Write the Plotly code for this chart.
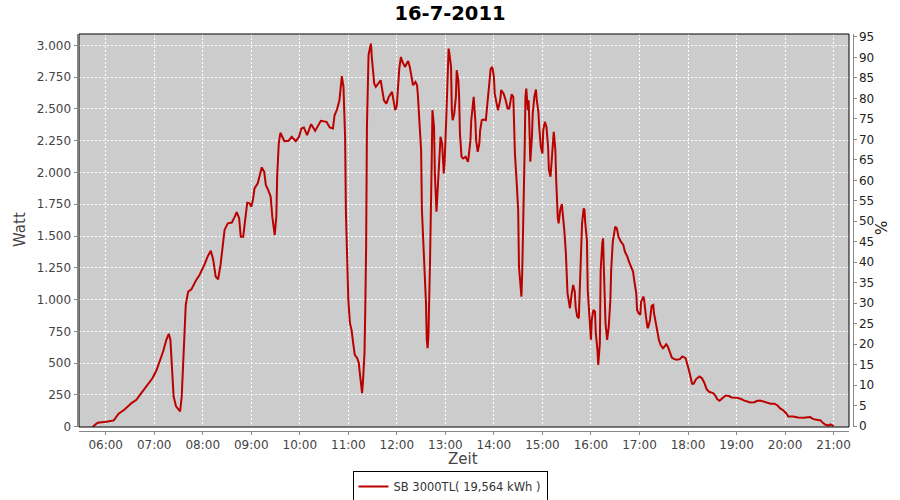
import plotly.graph_objects as go

DAY = "2011-07-16"

times = [
    "05:44", "05:50", "06:01", "06:10", "06:16", "06:23", "06:32", "06:38", "06:44", "06:52",
    "06:58", "07:03", "07:07", "07:11", "07:15", "07:18", "07:20", "07:22", "07:24", "07:27",
    "07:32", "07:34", "07:36", "07:38", "07:39", "07:42", "07:46", "07:52", "07:56", "08:02",
    "08:06", "08:10", "08:13", "08:16", "08:19", "08:22", "08:25", "08:27", "08:31", "08:36",
    "08:39", "08:42", "08:45", "08:47", "08:50", "08:53", "08:55", "08:58", "09:00", "09:02",
    "09:04", "09:08", "09:10", "09:13", "09:16", "09:18", "09:21", "09:24", "09:26", "09:29",
    "09:31", "09:32", "09:34", "09:36", "09:41", "09:46", "09:50", "09:55", "09:59", "10:02",
    "10:05", "10:09", "10:14", "10:19", "10:26", "10:33", "10:37", "10:41", "10:43", "10:46",
    "10:49", "10:50", "10:52", "10:54", "10:55", "10:56", "10:57", "10:58", "10:59", "11:00",
    "11:02", "11:04", "11:06", "11:08", "11:11", "11:13", "11:14", "11:17", "11:18", "11:20",
    "11:21", "11:22", "11:23", "11:24", "11:25", "11:27", "11:28", "11:29", "11:31", "11:32",
    "11:34", "11:37", "11:40", "11:42", "11:44", "11:47", "11:50", "11:54", "11:56", "11:58",
    "12:00", "12:02", "12:03", "12:05", "12:07", "12:10", "12:12", "12:14", "12:16", "12:18",
    "12:20", "12:23", "12:25", "12:26", "12:28", "12:30", "12:31", "12:33", "12:34", "12:36",
    "12:37", "12:38", "12:39", "12:40", "12:41", "12:43", "12:44", "12:46", "12:47", "12:49",
    "12:50", "12:52", "12:54", "12:56", "12:58", "12:59", "13:01", "13:02", "13:04", "13:05",
    "13:07", "13:08", "13:09", "13:11", "13:13", "13:14", "13:16", "13:17", "13:18", "13:20",
    "13:22", "13:25", "13:28", "13:29", "13:31", "13:32", "13:34", "13:35", "13:37", "13:38",
    "13:40", "13:42", "13:43", "13:45", "13:47", "13:50", "13:51", "13:53", "13:55", "13:56",
    "13:58", "14:00", "14:01", "14:03", "14:05", "14:06", "14:08", "14:09", "14:12", "14:14",
    "14:17", "14:19", "14:21", "14:22", "14:24", "14:25", "14:26", "14:28", "14:30", "14:31",
    "14:33", "14:34", "14:35", "14:37", "14:38", "14:39", "14:40", "14:42", "14:43", "14:44",
    "14:45", "14:47", "14:48", "14:50", "14:52", "14:53", "14:55", "14:56", "14:58", "15:00",
    "15:01", "15:03", "15:05", "15:07", "15:08", "15:10", "15:12", "15:14", "15:15", "15:16",
    "15:17", "15:18", "15:19", "15:20", "15:22", "15:24", "15:26", "15:27", "15:29", "15:30",
    "15:31", "15:33", "15:34", "15:36", "15:38", "15:40", "15:41", "15:43", "15:45", "15:46",
    "15:48", "15:49", "15:51", "15:52", "15:53", "15:55", "15:56", "15:58", "16:00", "16:01",
    "16:03", "16:05", "16:06", "16:08", "16:09", "16:11", "16:12", "16:14", "16:15", "16:16",
    "16:17", "16:18", "16:20", "16:22", "16:24", "16:25", "16:27", "16:29", "16:30", "16:32",
    "16:34", "16:37", "16:40", "16:42", "16:45", "16:47", "16:50", "16:52", "16:54", "16:56",
    "16:57", "16:59", "17:01", "17:02", "17:05", "17:06", "17:08", "17:10", "17:11", "17:13",
    "17:15", "17:17", "17:18", "17:20", "17:22", "17:24", "17:26", "17:29", "17:31", "17:33",
    "17:35", "17:38", "17:40", "17:43", "17:46", "17:50", "17:53", "17:57", "17:59", "18:01",
    "18:03", "18:05", "18:07", "18:10", "18:14", "18:17", "18:20", "18:23", "18:26", "18:31",
    "18:34", "18:36", "18:39", "18:42", "18:46", "18:50", "18:54", "19:00", "19:05", "19:09",
    "19:14", "19:17", "19:22", "19:25", "19:29", "19:33", "19:37", "19:42", "19:47", "19:51",
    "19:54", "19:58", "20:01", "20:04", "20:10", "20:16", "20:23", "20:27", "20:31", "20:35",
    "20:39", "20:44", "20:47", "20:50", "20:54", "20:56", "20:58", "21:00",
]

watt = [
    0, 31, 39, 50, 102, 134, 186, 212, 265, 330,
    383, 448, 513, 592, 684, 731, 684, 487, 238, 160,
    120, 238, 500, 762, 958, 1063, 1081, 1155, 1194, 1273,
    1338, 1385, 1312, 1181, 1160, 1273, 1443, 1548, 1600, 1606,
    1645, 1687, 1640, 1495, 1495, 1652, 1762, 1757, 1730, 1783,
    1875, 1915, 1966, 2040, 2005, 1901, 1861, 1809, 1652, 1508,
    1652, 1966, 2228, 2312, 2246, 2249, 2280, 2246, 2280, 2346,
    2354, 2293, 2380, 2327, 2406, 2398, 2354, 2346, 2450, 2495,
    2568, 2647, 2757, 2673, 2503, 2280, 1691, 1403, 1168, 998,
    815, 762, 657, 566, 540, 500, 434, 265, 343, 579,
    945, 1416, 2358, 2699, 2922, 2987, 3013, 2908, 2790, 2699,
    2673, 2699, 2725, 2647, 2568, 2542, 2594, 2634, 2568, 2490,
    2529, 2725, 2817, 2908, 2869, 2830, 2861, 2877, 2830, 2739,
    2686, 2712, 2686, 2608, 2358, 2175, 1704, 1443, 1207, 972,
    684, 618, 709, 972, 1298, 2045, 2490, 2358, 1992, 1691,
    1783, 2045, 2280, 2228, 1992, 2071, 2411, 2673, 2974, 2935,
    2830, 2490, 2411, 2464, 2594, 2804, 2725, 2594, 2306, 2123,
    2110, 2123, 2084, 2136, 2254, 2411, 2581, 2594, 2411, 2254,
    2162, 2228, 2332, 2411, 2416, 2411, 2476, 2620, 2725, 2817,
    2830, 2752, 2620, 2555, 2490, 2516, 2581, 2647, 2620, 2581,
    2503, 2503, 2581, 2616, 2594, 2332, 2149, 1940, 1704, 1259,
    1115, 1024, 1207, 1757, 2175, 2594, 2660, 2490, 2568, 2332,
    2084, 2280, 2464, 2594, 2652, 2568, 2476, 2358, 2201, 2149,
    2332, 2398, 2358, 2201, 2018, 1966, 2123, 2319, 2254, 2175,
    1940, 1730, 1640, 1600, 1704, 1751, 1626, 1548, 1364, 1233,
    1050, 972, 932, 1037, 1115, 1063, 945, 866, 853, 1050,
    1338, 1600, 1718, 1704, 1600, 1469, 1076, 866, 684, 840,
    919, 906, 736, 605, 487, 657, 1233, 1443, 1482, 1233,
    972, 814, 684, 788, 998, 1233, 1456, 1534, 1573, 1561,
    1495, 1456, 1430, 1377, 1338, 1298, 1259, 1220, 1129, 1050,
    919, 892, 880, 984, 1024, 984, 866, 775, 788, 840,
    951, 958, 892, 814, 749, 684, 644, 618, 631, 649,
    631, 584, 544, 532, 527, 532, 553, 540, 500, 448,
    395, 338, 338, 375, 395, 383, 348, 296, 275, 265,
    243, 218, 204, 220, 243, 243, 230, 228, 220, 207,
    196, 191, 193, 202, 207, 199, 186, 181, 181, 165,
    144, 128, 108, 81, 81, 73, 71, 76, 76, 60,
    53, 50, 29, 16, 10, 18, 13, 5,
]

title_text = "16-7-2011"
series_name = "SB 3000TL( 19,564 kWh )"
y_title = "Watt"
y2_title = "%"
x_title = "Zeit"
x_range = [DAY + " 05:27:00", DAY + " 21:19:03"]
y_range = [-2, 3089]
y2_range = [-0.2, 95.7]

W, H = 900, 500
FONT = "DejaVu Sans"
TXT = "#444444"
AX = "#888888"

x_dom = [79 / W, 849 / W]
y_dom = [1 - 427 / H, 1 - 34 / H]

x_vals = [DAY + " " + t for t in times]

fig = go.Figure()
fig.add_trace(go.Scatter(
    x=x_vals, y=watt, mode="lines", name=series_name,
    line=dict(color="#BB0000", width=2),
))
fig.add_trace(go.Scatter(
    x=[x_vals[0]], y=[0], yaxis="y2", mode="markers",
    marker=dict(opacity=0), showlegend=False, hoverinfo="skip",
))

fig.update_layout(
    width=W, height=H,
    margin=dict(l=0, r=0, t=0, b=0, autoexpand=False),
    paper_bgcolor="white",
    plot_bgcolor="#CCCCCC",
    separators=",.",
    font=dict(family=FONT, size=12, color=TXT),
    title=dict(text="<b>" + title_text + "</b>", x=0.5, xanchor="center",
               y=1 - 13 / H, yanchor="middle", yref="container",
               font=dict(family=FONT, size=19.5, color="black")),
    xaxis=dict(
        domain=x_dom, range=x_range, type="date", automargin=False,
        tickformat="%H:%M", dtick=3600000, tick0=DAY + " 06:00",
        showgrid=True, gridcolor="white", griddash="2px,2px", gridwidth=1,
        showline=True, linecolor=AX, linewidth=1,
        ticks="outside", ticklen=3, tickcolor=AX,
        anchor="free", position=1 - 431 / H, zeroline=False,
        tickfont=dict(family=FONT, size=12, color=TXT),
    ),
    yaxis=dict(
        domain=y_dom, range=y_range, dtick=250, tick0=0, tickformat=",d", automargin=False,
        showgrid=True, gridcolor="white", griddash="2px,2px", gridwidth=1,
        showline=True, linecolor=AX, linewidth=1,
        ticks="outside", ticklen=3, tickcolor=AX,
        anchor="free", position=76.5 / W, zeroline=False,
        tickfont=dict(family=FONT, size=12, color=TXT),
    ),
    yaxis2=dict(
        overlaying="y", side="right", range=y2_range, dtick=5, tick0=0, automargin=False,
        showgrid=False, showline=True, linecolor=AX, linewidth=1,
        ticks="outside", ticklen=3, tickcolor=AX,
        anchor="free", position=852.5 / W, zeroline=False,
        tickfont=dict(family=FONT, size=12, color="#222222"),
    ),
    legend=dict(
        orientation="v", x=0.5, xanchor="center", y=1 - 471 / H, yanchor="top",
        bordercolor="black", borderwidth=1, bgcolor="white",
        font=dict(family=FONT, size=11.5, color="#333333"),
        itemwidth=30, tracegroupgap=0,
    ),
    showlegend=True,
)

fig.add_shape(type="rect", xref="paper", yref="paper",
              x0=x_dom[0], x1=x_dom[1], y0=y_dom[0], y1=y_dom[1],
              line=dict(color="black", width=1), fillcolor="rgba(0,0,0,0)", layer="above")

fig.add_annotation(text=y_title, xref="paper", yref="paper", x=20 / W, y=1 - 230 / H,
                   textangle=-90, showarrow=False, xanchor="center", yanchor="middle",
                   font=dict(family=FONT, size=15, color=TXT))
fig.add_annotation(text=y2_title, xref="paper", yref="paper", x=882 / W, y=1 - 228 / H,
                   textangle=-90, showarrow=False, xanchor="center", yanchor="middle",
                   font=dict(family=FONT, size=15, color="#222222"))
fig.add_annotation(text=x_title, xref="paper", yref="paper", x=463 / W, y=1 - 459 / H,
                   showarrow=False, xanchor="center", yanchor="middle",
                   font=dict(family=FONT, size=15, color=TXT))

fig.write_html("out.html", config={"displayModeBar": False},
               post_script="document.body.style.margin='0';document.body.style.overflow='hidden';")
